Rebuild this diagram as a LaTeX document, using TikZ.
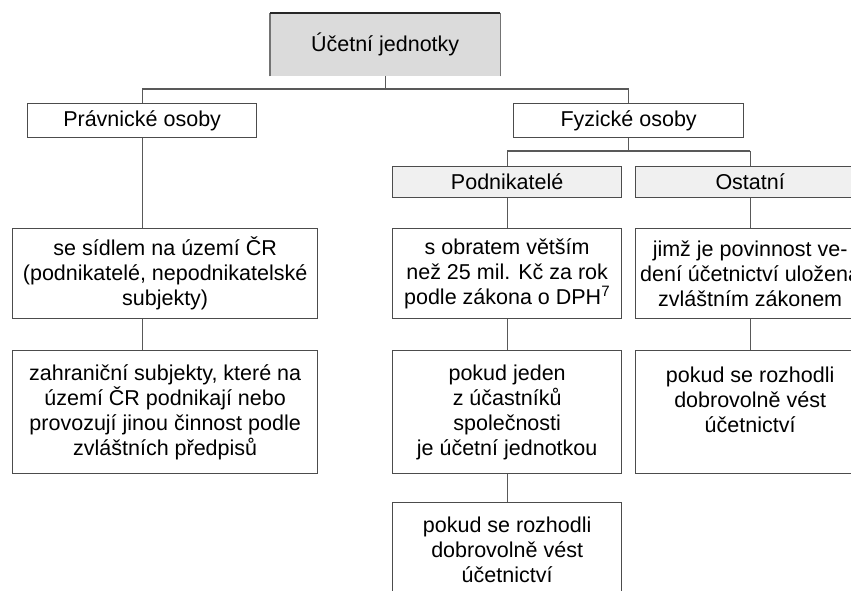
\documentclass[tikz,border=0pt]{standalone}
\usepackage{fontspec}
\setmainfont{Liberation Sans}
\begin{document}
\begin{tikzpicture}[x=1pt,y=-1pt,
  box/.style={draw=black!70, line width=1.3pt, fill=white, align=center,
    inner sep=0pt, anchor=north west, font=\fontsize{21.5}{25}\selectfont},
  headbox/.style={box, fill=black!14, draw=none},
  groupbox/.style={box, fill=black!6},
  link/.style={draw=black!65, line width=1.3pt}]
\useasboundingbox (0,0) rectangle (851,590);

% root: shaded, dark top edge, grey sides, open bottom
\node[headbox, minimum width=229pt, minimum height=62pt] (root) at (270,13) {Účetní jednotky};
\draw[black!55, line width=1.3pt] (root.south west) -- (root.north west);
\draw[black!55, line width=1.3pt] (root.south east) -- (root.north east);
\draw[black!85, line width=1.5pt] (root.north west) -- (root.north east);

% second level
\node[box, minimum width=229pt, minimum height=34pt] (pravo) at (27,103) {Právnické osoby};
\node[box, minimum width=230pt, minimum height=34pt] (fyz) at (513,103) {Fyzické osoby};

% third level under Fyzické osoby
\node[groupbox, minimum width=229pt, minimum height=31pt] (podn) at (392,166) {Podnikatelé};
\node[groupbox, minimum width=229pt, minimum height=31pt] (ost) at (635,166) {Ostatní};

% detail boxes
\node[box, minimum width=305pt, minimum height=90pt] (sidlo) at (12,228)
  {se sídlem na území ČR\\(podnikatelé, nepodnikatelské\\subjekty)};
\node[box, minimum width=305pt, minimum height=123pt] (zahr) at (12,350)
  {zahraniční subjekty, které na\\území ČR podnikají nebo\\provozují jinou činnost podle\\zvláštních předpisů};

\node[box, minimum width=229pt, minimum height=90pt] (obrat) at (392,228)
  {s obratem větším\\než 25 mil. Kč za rok\\podle zákona o DPH\textsuperscript{7}};
\node[box, minimum width=229pt, minimum height=123pt] (ucast) at (392,350)
  {pokud jeden\\z účastníků\\společnosti\\je účetní jednotkou};
\node[box, minimum width=229pt, minimum height=95pt] (dobr1) at (392,502)
  {pokud se rozhodli\\dobrovolně vést\\účetnictví};

\node[box, minimum width=229pt, minimum height=90pt] (zakon) at (635,228)
  {jimž je povinnost ve-\\dení účetnictví uložena\\zvláštním zákonem};
\node[box, minimum width=229pt, minimum height=123pt] (dobr2) at (635,350)
  {pokud se rozhodli\\dobrovolně vést\\účetnictví\\\mbox{}};

% connectors
\coordinate (busA) at (root.south |- 0,89);
\draw[link] (root.south) -- (busA);
\draw[link] (pravo.north |- busA) -- (fyz.north |- busA);
\draw[link] (pravo.north |- busA) -- (pravo.north);
\draw[link] (fyz.north |- busA) -- (fyz.north);

\draw[link] (pravo.south) -- (sidlo.north -| pravo.south);
\draw[link] (sidlo.south -| pravo.south) -- (zahr.north -| pravo.south);

\coordinate (busB) at (fyz.south |- 0,151);
\draw[link] (fyz.south) -- (busB);
\draw[link] (podn.north |- busB) -- (ost.north |- busB);
\draw[link] (podn.north |- busB) -- (podn.north);
\draw[link] (ost.north |- busB) -- (ost.north);

\draw[link] (podn.south) -- (obrat.north);
\draw[link] (obrat.south) -- (ucast.north);
\draw[link] (ucast.south) -- (dobr1.north);

\draw[link] (ost.south) -- (zakon.north);
\draw[link] (zakon.south) -- (dobr2.north);
\end{tikzpicture}
\end{document}
